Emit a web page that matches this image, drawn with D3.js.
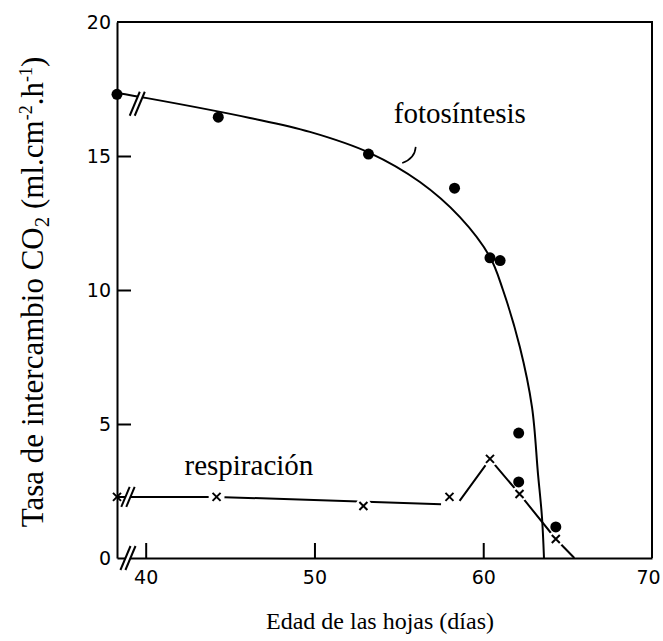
<!DOCTYPE html>
<html>
<head>
<meta charset="utf-8">
<script src="https://cdn.jsdelivr.net/npm/d3@7"></script>
<style>
  body { margin: 0; background: #fff; }
  svg { display: block; }
</style>
</head>
<body>
<script>
// puntos medidos (edad en dias, tasa)
var fotoX = [38.3, 44.3, 53.2, 58.3, 60.4, 61.0, 62.1, 62.1, 64.3];
var fotoY = [17.3, 16.45, 15.07, 13.8, 11.2, 11.1, 4.66, 2.84, 1.16];
// curva ajustada a mano (fotosintesis)
var fotoCurvaX = [38.3, 40.08, 46.18, 49.73, 53.29, 56.25, 58.62, 60.4, 61.17, 62.17, 62.89, 63.24, 63.48, 63.6];
var fotoCurvaY = [17.35, 17.16, 16.42, 15.9, 15.11, 14.03, 12.72, 11.23, 10.0, 7.87, 5.63, 3.17, 1.53, 0];

var respX = [38.3, 44.2, 52.9, 58.0, 60.4, 62.15, 64.3];
var respY = [2.28, 2.28, 1.94, 2.28, 3.7, 2.39, 0.71];
// trazo de respiracion, dos tramos
var respTramo1X = [38.3, 44.2, 57.5];
var respTramo1Y = [2.28, 2.28, 2.01];
var respTramo2X = [58.6, 60.4, 62.15, 64.3, 65.4];
var respTramo2Y = [2.13, 3.69, 2.39, 0.71, 0];

var xTicks = [40, 50, 60, 70];
var yTicks = [0, 5, 10, 15, 20];

var W = 663, H = 641;
var svg = d3.select("body").append("svg").attr("width", W).attr("height", H);

var x = d3.scaleLinear().domain([38.3, 70]).range([117, 652]);
var y = d3.scaleLinear().domain([0, 20]).range([558, 22]);

function pts(xs, ys){
  var a = [];
  for(var i = 0; i < xs.length; i++) a.push([xs[i], ys[i]]);
  return a;
}

var linea = d3.line().x(function(d){ return x(d[0]); }).y(function(d){ return y(d[1]); });

// ejes
var xAxis = d3.axisBottom(x).tickValues(xTicks).tickSizeInner(-15).tickSizeOuter(0).tickPadding(13);
var gx = svg.append("g").attr("transform", "translate(0," + y(0) + ")").call(xAxis);
var yAxis = d3.axisLeft(y).tickValues(yTicks).tickSizeInner(-14).tickSizeOuter(0).tickPadding(6);
var gy = svg.append("g").attr("transform", "translate(" + x(38.3) + ",0)").call(yAxis);

[gx, gy].forEach(function(g){
  g.selectAll("path.domain").attr("stroke", "#000").attr("stroke-width", 2);
  g.selectAll(".tick line").attr("stroke", "#000").attr("stroke-width", 2);
  g.selectAll(".tick text")
    .attr("fill", "#000")
    .style("font-family", "'DejaVu Sans', sans-serif")
    .style("font-size", "19px");
});
gy.selectAll(".tick").filter(function(d){ return d == 0 || d == 20; }).select("line").remove();
gx.selectAll(".tick").filter(function(d){ return d == 70; }).select("line").remove();
gx.selectAll(".tick").filter(function(d){ return d == 70; }).select("text").attr("x", -4);

// marco superior y derecho
svg.append("path")
  .attr("d", "M" + x(38.3) + "," + y(20) + "H" + x(70) + "V" + y(0))
  .attr("fill", "none").attr("stroke", "#000").attr("stroke-width", 2);

// curva fotosintesis
svg.append("path")
  .datum(pts(fotoCurvaX, fotoCurvaY))
  .attr("d", linea.curve(d3.curveCatmullRom.alpha(0.5)))
  .attr("fill", "none").attr("stroke", "#000").attr("stroke-width", 2);

// respiracion
linea.curve(d3.curveLinear);
[pts(respTramo1X, respTramo1Y), pts(respTramo2X, respTramo2Y)].forEach(function(t){
  svg.append("path").datum(t).attr("d", linea)
    .attr("fill", "none").attr("stroke", "#000").attr("stroke-width", 2);
});

// huecos alrededor de las cruces
svg.selectAll("circle.hueco").data(pts(respX, respY).slice(1)).enter()
  .append("circle").attr("class", "hueco")
  .attr("cx", function(d){ return x(d[0]); })
  .attr("cy", function(d){ return y(d[1]); })
  .attr("r", 8).attr("fill", "#fff");

// cortes de eje //
function drawBreak(cx, cy, h){
  var dx = h * 0.42, sep = 5;
  svg.append("path")
    .attr("d", "M" + (cx - sep/2 - dx/2) + "," + (cy + h/2) + "L" + (cx - sep/2 + dx/2) + "," + (cy - h/2) +
               "L" + (cx + sep/2 + dx/2) + "," + (cy - h/2) + "L" + (cx + sep/2 - dx/2) + "," + (cy + h/2) + "Z")
    .attr("fill", "#fff");
  [-sep/2, sep/2].forEach(function(o){
    svg.append("line")
      .attr("x1", cx + o - dx/2).attr("y1", cy + h/2)
      .attr("x2", cx + o + dx/2).attr("y2", cy - h/2)
      .attr("stroke", "#000").attr("stroke-width", 2);
  });
}
drawBreak(x(38.95), y(0), 24);
drawBreak(x(39.5), y(16.95), 24);
drawBreak(x(38.95), y(2.28), 20);

// puntos fotosintesis
svg.selectAll("circle.foto").data(pts(fotoX, fotoY)).enter()
  .append("circle").attr("class", "foto")
  .attr("cx", function(d){ return x(d[0]); })
  .attr("cy", function(d){ return y(d[1]); })
  .attr("r", 5.5).attr("fill", "#000");

// cruces respiracion
svg.selectAll("path.cruz").data(pts(respX, respY)).enter()
  .append("path").attr("class", "cruz")
  .attr("transform", function(d){ return "translate(" + x(d[0]) + "," + y(d[1]) + ")"; })
  .attr("d", "M-4,-4L4,4M-4,4L4,-4")
  .attr("stroke", "#000").attr("stroke-width", 2);

// etiquetas
svg.append("text").text("fotosíntesis")
  .attr("x", x(54.7)).attr("y", y(16.23))
  .style("font-family", "'Liberation Serif', serif").style("font-size", "29px");
svg.append("path")
  .attr("d", "M" + x(55.2) + "," + y(14.74) + "Q" + x(55.95) + "," + y(14.9) + " " + x(56.0) + "," + y(15.34))
  .attr("fill", "none").attr("stroke", "#000").attr("stroke-width", 1.6);

svg.append("text").text("respiración")
  .attr("x", x(42.3)).attr("y", y(3.1))
  .style("font-family", "'Liberation Serif', serif").style("font-size", "29px");

// titulos
svg.append("text").text("Edad de las hojas (días)")
  .attr("x", 380).attr("y", 629).attr("text-anchor", "middle")
  .style("font-family", "'Liberation Serif', serif").style("font-size", "24px");

var yt = svg.append("text")
  .attr("transform", "translate(43,292) rotate(-90)")
  .attr("text-anchor", "middle")
  .style("font-family", "'Liberation Serif', serif").style("font-size", "31px");
yt.append("tspan").text("Tasa de intercambio CO");
yt.append("tspan").text("2").attr("dy", 6).style("font-size", "21px");
yt.append("tspan").text(" (ml.cm").attr("dy", -6);
yt.append("tspan").text("-2").attr("dy", -11).style("font-size", "18px");
yt.append("tspan").text(".h").attr("dy", 11);
yt.append("tspan").text("-1").attr("dy", -11).style("font-size", "18px");
yt.append("tspan").text(")").attr("dy", 11);
</script>
</body>
</html>
